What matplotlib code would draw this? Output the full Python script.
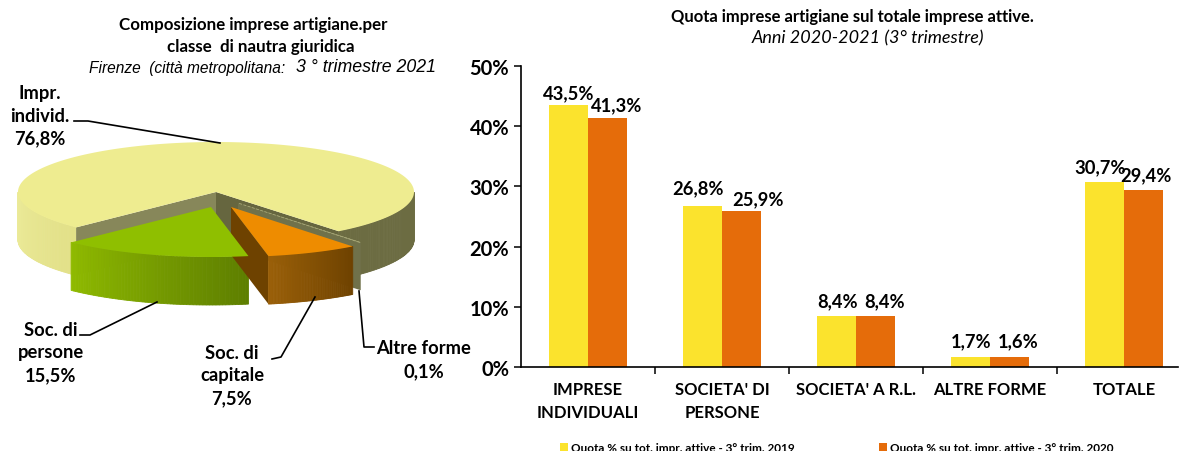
import numpy as np
import matplotlib
matplotlib.use('Agg')
import matplotlib.pyplot as plt
from matplotlib.colors import to_rgb

plt.rcParams['font.family'] = ['Lato', 'DejaVu Sans']

# pie data
pie_names = ['Impr.\nindivid.', 'Soc. di\npersone', 'Soc. di\ncapitale', 'Altre forme']
pie_values = [76.8, 15.5, 7.5, 0.1]

# bar data
categories = ['IMPRESE\nINDIVIDUALI', "SOCIETA' DI\nPERSONE", "SOCIETA' A R.L.", 'ALTRE FORME', 'TOTALE']
quota_2019 = [43.5, 26.8, 8.4, 1.7, 30.7]
quota_2020 = [41.3, 25.9, 8.4, 1.6, 29.4]
y_ticks = [0, 10, 20, 30, 40, 50]

W, H = 1181, 452
fig = plt.figure(figsize=(W/100, H/100), dpi=100)

# whole figure overlay in pixel coords, for the fake 3d pie and the texts
bg = fig.add_axes([0, 0, 1, 1])
bg.set_xlim(0, W)
bg.set_ylim(H, 0)
bg.axis('off')

cx, cy, rx, ry, depth = 216, 193, 198, 50, 48
start = 308.3


def pct(v):
    return ('%.1f%%' % v).replace('.', ',')


def rim(a, ox, oy):
    t = np.radians(a)
    return cx + ox + rx*np.cos(t), cy + oy - ry*np.sin(t)


def side(a0, a1, c0, c1, ox, oy, z):
    # outer wall, only the part facing us, in thin strips for the gradient
    a0, a1 = max(a0, 180), min(a1, 360)
    if a1 <= a0:
        return
    edges = np.linspace(a0, a1, 60)
    c0, c1 = np.array(to_rgb(c0)), np.array(to_rgb(c1))
    for i in range(len(edges)-1):
        a = np.linspace(edges[i], edges[i+1], 3)
        x, y = rim(a, ox, oy)
        f = i/(len(edges)-2)
        bg.fill(np.r_[x, x[::-1]], np.r_[y, y[::-1]+depth], color=c0*(1-f)+c1*f, lw=0.6, zorder=z)


def cut(a, color, ox, oy, z):
    x, y = rim(a, ox, oy)
    bg.fill([cx+ox, x, x, cx+ox], [cy+oy, y, y+depth, cy+oy+depth], color=color, lw=0, zorder=z)


def top(a0, a1, color, ox, oy, z):
    a = np.linspace(a0, a1, 200)
    x, y = rim(a, ox, oy)
    bg.fill(np.r_[cx+ox, x], np.r_[cy+oy, y], color=color, lw=0, zorder=z)


angles = np.array(pie_values)/sum(pie_values)*360
a0 = start
bounds = []
for v in angles:
    bounds.append((a0, a0+v))
    a0 += v

# big slice
b0, b1 = bounds[0]
side(b0, 360, '#6c6c42', '#6c6c42', 0, 0, 1)
side(180, b1-360, '#eceb9a', '#e2e088', 0, 0, 1)
cut(b0-360, '#66663f', 0, 0, 2)
cut(b1-360, '#87875a', 0, 0, 2)
top(b0, b1, '#eeec90', 0, 0, 3)

# altre forme, just a sliver
s0, s1 = bounds[3][0]-720, bounds[3][1]-720
cut(s1+360, '#70714a', 22, 11, 4)
top(s0+360, s1+360, '#c8c890', 22, 11, 5)
bg.plot(*zip(rim(s0+360, 22, 11), (cx+22, cy+11)), color='#a8a878', lw=0.6, ls='--', zorder=5)

# soc. di persone
g0, g1 = bounds[1][0]-360, bounds[1][1]-360
side(g0, g1, '#8fba00', '#5e7f00', -5, 15, 6)
top(g0, g1, '#8fbf00', -5, 15, 7)

# soc. di capitale
o0, o1 = bounds[2][0]-360, bounds[2][1]-360
cut(o0, '#6e4200', 15, 15, 6)
side(o0, o1, '#9a5f08', '#6f4200', 15, 15, 7)
top(o0, o1, '#ee8c00', 15, 15, 8)

# leaders
leaders = [([74, 88, 220], [122, 122, 144]),
           ([80, 90, 157], [336, 336, 303]),
           ([272, 281, 315], [360, 358, 298]),
           ([359, 364, 374], [292, 348, 348])]
for xs, ys in leaders:
    bg.plot(xs, ys, color='k', lw=1.2, zorder=9)

pie_pos = [(40, 116), (51, 353), (232, 376), (424, 360)]
for i, (n, v) in enumerate(zip(pie_names, pie_values)):
    bg.text(pie_pos[i][0], pie_pos[i][1], n+'\n'+pct(v), ha='center', va='center',
            fontsize=13.2, fontweight='bold', linespacing=1.42, zorder=10)

bg.text(253, 25, 'Composizione imprese artigiane.per', ha='center', va='center', fontsize=12.2, fontweight='bold')
bg.text(261, 47, 'classe  di nautra giuridica', ha='center', va='center', fontsize=12.2, fontweight='bold')
bg.text(89, 69, 'Firenze  (città metropolitana:', ha='left', va='center', fontsize=11.2,
        style='italic', family='Liberation Sans')
bg.text(296, 68, '3 ° trimestre 2021', ha='left', va='center', fontsize=12.8,
        style='italic', family='Liberation Sans')
bg.text(852, 17, 'Quota imprese artigiane sul totale imprese attive.', ha='center', va='center',
        fontsize=12, fontweight='bold')
bg.text(868, 38, 'Anni 2020-2021 (3° trimestre)', ha='center', va='center', fontsize=13, style='italic')

# bars
ax = fig.add_axes([521/W, 1-368/H, (1178-521)/W, (368-67)/H])
x = np.arange(len(categories))
w = 0.29
ax.bar(x-w/2, quota_2019, w, color='#fbe32d', label='Quota % su tot. impr. attive - 3° trim. 2019')
ax.bar(x+w/2, quota_2020, w, color='#e56c0a', label='Quota % su tot. impr. attive - 3° trim. 2020')

shift_2019 = [0, -5, 1, 1, -4]
shift_2020 = [9, 17, 9, 9, 3]
lift_2019 = [4, 9, 7, 8, 7]
lift_2020 = [5, 4, 7, 8, 7]
for i in range(len(categories)):
    ax.annotate(pct(quota_2019[i]), (x[i]-w/2, quota_2019[i]), xytext=(shift_2019[i], lift_2019[i]),
                textcoords='offset pixels', ha='center', va='bottom', fontsize=13.2, fontweight='bold')
    ax.annotate(pct(quota_2020[i]), (x[i]+w/2, quota_2020[i]), xytext=(shift_2020[i], lift_2020[i]),
                textcoords='offset pixels', ha='center', va='bottom', fontsize=13.2, fontweight='bold')

ax.set_xlim(-0.5, -0.5+(1178-521)/134)
ax.set_ylim(0, 50)
ax.set_yticks(y_ticks)
ax.set_yticklabels(['%d%%' % t for t in y_ticks], fontsize=14.5, fontweight='bold')
ax.set_xticks(np.arange(0.5, 4))
ax.set_xticklabels([])
ax.tick_params(axis='both', length=5, width=1.1, color='k')
for s in ['top', 'right']:
    ax.spines[s].set_visible(False)
for s in ['left', 'bottom']:
    ax.spines[s].set_linewidth(1.2)
for i, c in enumerate(categories):
    ax.annotate(c, (x[i], 0), xytext=(0, -14), textcoords='offset pixels', ha='center', va='top',
                fontsize=12, fontweight='bold', linespacing=1.5)

ax.legend(loc='upper left', bbox_to_anchor=(39/657, -0.25), ncol=2, frameon=False,
          handlelength=0.7, handleheight=0.7, handletextpad=0.25, columnspacing=7.1,
          borderpad=0, borderaxespad=0, prop={'size': 8.5, 'weight': 'bold'})

fig.savefig('out.png', dpi=100)
